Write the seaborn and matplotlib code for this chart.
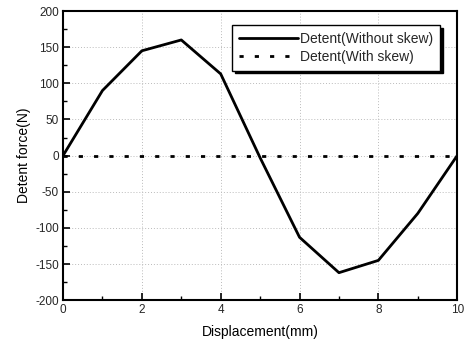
import matplotlib
matplotlib.use("Agg")
import matplotlib.pyplot as plt
import seaborn as sns
import pandas as pd
from matplotlib.ticker import MultipleLocator

displacement = [0, 1, 2, 3, 4, 5, 6, 7, 8, 9, 10]
without_skew = [0, 90, 145, 160, 113, -3, -113, -162, -145, -80, 0]
with_skew = [0, 0, 0, 0, 0, 0, 0, 0, 0, 0, 0]

sns.set_theme(style="white")
plt.rcParams['font.family'] = ['Liberation Sans', 'DejaVu Sans']
plt.rcParams['axes.unicode_minus'] = False

df = pd.DataFrame({"x": displacement, "a": without_skew, "b": with_skew})

fig = plt.figure(figsize=(4.67, 3.45), dpi=100)
ax = fig.add_axes([0.135, 0.130, 0.844, 0.838])

sns.lineplot(data=df, x="x", y="a", ax=ax, color="black", lw=2.0,
             label="Detent(Without skew)")
sns.lineplot(data=df, x="x", y="b", ax=ax, color="black", lw=2.0,
             linestyle=(0, (1.5, 4)), label="Detent(With skew)")

ax.set_xlim(0, 10)
ax.set_ylim(-200, 200)
ax.xaxis.set_major_locator(MultipleLocator(2))
ax.xaxis.set_minor_locator(MultipleLocator(1))
ax.yaxis.set_major_locator(MultipleLocator(50))
ax.yaxis.set_minor_locator(MultipleLocator(25))
ax.grid(True, which="major", color="#bbbbbb", linestyle=(0, (1, 2)), lw=0.7)
ax.tick_params(which="both", direction="in", color="black", labelsize=8.5, pad=3)
ax.tick_params(which="major", length=5, width=1.2)
ax.tick_params(which="minor", length=3, width=1.0)
ax.tick_params(axis="both", which="both", bottom=True, left=True)
for s in ax.spines.values():
    s.set_color("black")
    s.set_linewidth(1.5)
ax.set_xlabel("Displacement(mm)", fontsize=10, color="black", labelpad=6)
ax.set_ylabel("Detent force(N)", fontsize=10, color="black", labelpad=3)

leg = ax.legend(loc="upper right", fontsize=10, frameon=True, fancybox=False,
                shadow={"color": "black", "alpha": 1.0}, edgecolor="black",
                framealpha=1, handlelength=4.2, borderpad=0.5,
                labelspacing=0.25, handletextpad=0.2,
                bbox_to_anchor=(0.975, 0.975))
leg.get_frame().set_linewidth(1.0)

fig.savefig("out.png", dpi=100)
